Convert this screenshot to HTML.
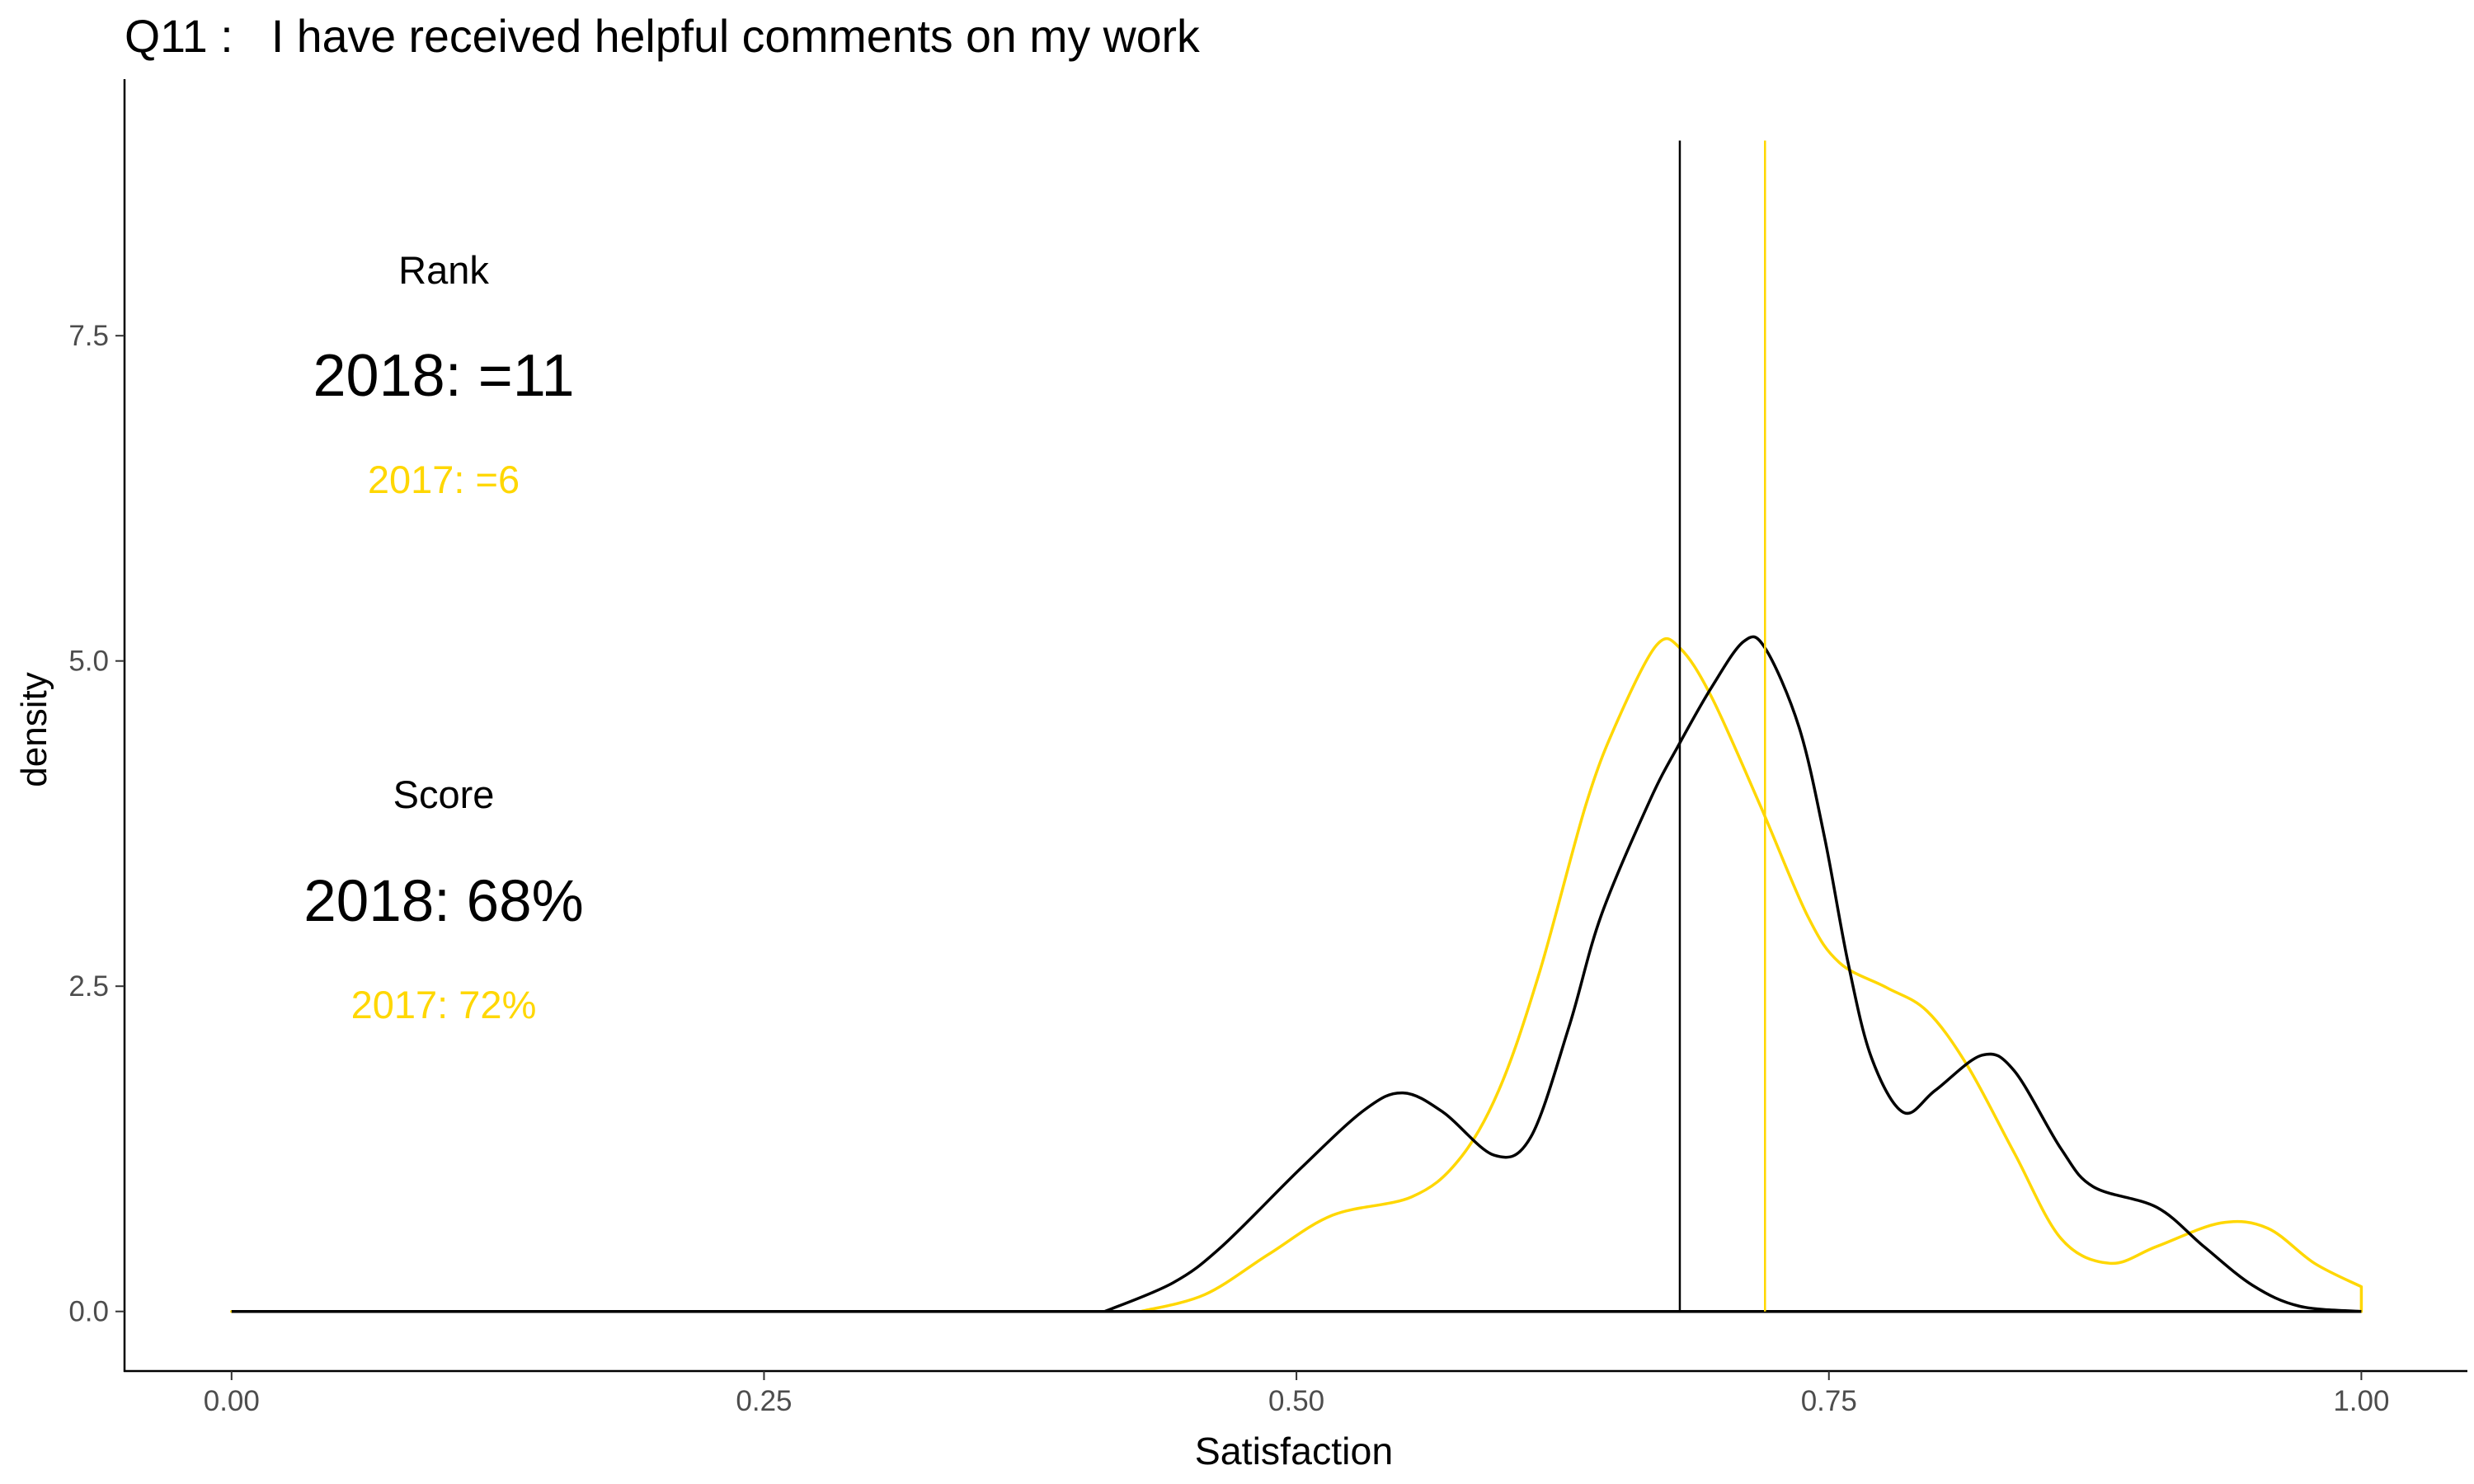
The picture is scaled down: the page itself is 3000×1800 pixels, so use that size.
<!DOCTYPE html>
<html><head><meta charset="utf-8"><style>
html,body{margin:0;padding:0;background:#fff;}
svg{display:block;font-family:"Liberation Sans",sans-serif;}
</style></head><body>
<svg id="chart" width="3000" height="1800" viewBox="0 0 3000 1800" xmlns="http://www.w3.org/2000/svg">
<rect width="3000" height="1800" fill="#fff"/>
<text x="151" y="63" font-size="55.5" fill="#000" xml:space="preserve">Q11 :   I have received helpful comments on my work</text>
<g id="annot">
<text x="538" y="344" font-size="47" text-anchor="middle" fill="#000">Rank</text>
<text x="538" y="480" font-size="72" text-anchor="middle" fill="#000">2018: =11</text>
<text x="538" y="598" font-size="47" text-anchor="middle" fill="#FFD700">2017: =6</text>
<text x="538" y="980" font-size="47" text-anchor="middle" fill="#000">Score</text>
<text x="538" y="1117" font-size="71" text-anchor="middle" fill="#000">2018: 68%</text>
<text x="538" y="1235" font-size="47" text-anchor="middle" fill="#FFD700">2017: 72%</text>
</g>
<g id="axes"></g>
<g id="marks"></g>
</svg>
<script>
const xTicks = [0, 0.25, 0.5, 0.75, 1.0];
const xTickLabels = ["0.00", "0.25", "0.50", "0.75", "1.00"];
const yTicks = [0, 2.5, 5.0, 7.5];
const yTickLabels = ["0.0", "2.5", "5.0", "7.5"];
const blackX = [0.41,0.442,0.465,0.502,0.532,0.55,0.569,0.593,0.61,0.628,0.643,0.666,0.68,0.695,0.71,0.72,0.736,0.748,0.759,0.77,0.785,0.8,0.822,0.837,0.859,0.874,0.904,0.926,0.949,0.971,1.0];
const blackY = [0,0.22,0.5,1.1,1.55,1.68,1.53,1.2,1.34,2.19,3.04,3.93,4.37,4.8,5.15,5.1,4.49,3.64,2.68,1.95,1.53,1.7,1.97,1.85,1.25,0.96,0.8,0.5,0.2,0.04,0];
const goldX = [0.427,0.457,0.487,0.517,0.554,0.576,0.595,0.614,0.636,0.651,0.669,0.68,0.695,0.718,0.74,0.755,0.777,0.796,0.815,0.837,0.859,0.882,0.904,0.934,0.956,0.978,1.0];
const goldY = [0,0.13,0.44,0.74,0.88,1.16,1.7,2.6,3.9,4.55,5.12,5.1,4.72,3.88,3.04,2.68,2.49,2.31,1.89,1.22,0.56,0.37,0.5,0.68,0.64,0.37,0.19];
const means = [0.68, 0.72];
const meanTop = 9.0;

const X = v => 280.8 + v * 2582.6;
const Y = v => 1590.7 - v * 157.8;
const NS = "http://www.w3.org/2000/svg";
function mk(tag, attrs, parent){const e=document.createElementNS(NS,tag);for(const k in attrs)e.setAttribute(k,attrs[k]);parent.appendChild(e);return e;}
const axes=document.getElementById('axes'), marks=document.getElementById('marks');

const yl=mk('line',{x1:151,y1:96,x2:151,y2:1664,stroke:'#000','stroke-width':2.5},axes);


const xl=mk('line',{x1:150,y1:1663,x2:2992,y2:1663,stroke:'#000','stroke-width':2.5},axes);


xTicks.forEach((t,i)=>{
  const tk=mk('line',{x1:X(t),y1:1663,x2:X(t),y2:1674,stroke:'#333','stroke-width':2},axes);
  
  
  const tx=mk('text',{x:X(t),y:1711,'font-size':35,'text-anchor':'middle',fill:'#4d4d4d'},axes);
  tx.textContent=xTickLabels[i];
  
  
});
yTicks.forEach((t,i)=>{
  const tk=mk('line',{x1:140,y1:Y(t),x2:151,y2:Y(t),stroke:'#333','stroke-width':2},axes);
  
  
  const tx=mk('text',{x:132,y:Y(t)+12,'font-size':35,'text-anchor':'end',fill:'#4d4d4d'},axes);
  tx.textContent=yTickLabels[i];
  
  
});
const xt=mk('text',{x:1569,y:1776,'font-size':46.5,'text-anchor':'middle',fill:'#000'},axes);
xt.textContent='Satisfaction';


const yt=mk('text',{x:56,y:885,'font-size':44,'text-anchor':'middle',fill:'#000',transform:'rotate(-90 56 885)'},axes);
yt.textContent='density';



function smooth(xs,ys){
  const p=xs.map((x,i)=>[X(x),Y(ys[i])]);
  let d='M'+p[0][0]+','+p[0][1];
  for(let i=0;i<p.length-1;i++){
    const p0=p[i-1]||p[i],p1=p[i],p2=p[i+1],p3=p[i+2]||p[i+1];
    const c1=[p1[0]+(p2[0]-p0[0])/6,p1[1]+(p2[1]-p0[1])/6];
    const c2=[p2[0]-(p3[0]-p1[0])/6,p2[1]-(p3[1]-p1[1])/6];
    d+=' C'+c1[0]+','+c1[1]+' '+c2[0]+','+c2[1]+' '+p2[0]+','+p2[1];
  }
  return d;
}
const gd=smooth(goldX,goldY)+' L'+X(1)+','+Y(0)+' L'+X(0)+','+Y(0)+' L'+X(goldX[0])+','+Y(0);
const gp=mk('path',{d:gd,fill:'none',stroke:'#FFD700','stroke-width':3.5,'stroke-linejoin':'round'},marks);


const bd=smooth(blackX,blackY)+' M'+X(0)+','+Y(0)+' L'+X(1)+','+Y(0);
const bp=mk('path',{d:bd,fill:'none',stroke:'#000','stroke-width':3.5,'stroke-linejoin':'round'},marks);


const m1=mk('line',{x1:X(means[0]),y1:Y(0),x2:X(means[0]),y2:Y(meanTop),stroke:'#000','stroke-width':2.5},marks);


const m2=mk('line',{x1:X(means[1]),y1:Y(0),x2:X(means[1]),y2:Y(meanTop),stroke:'#FFD700','stroke-width':2.5},marks);


</script>
</body></html>
